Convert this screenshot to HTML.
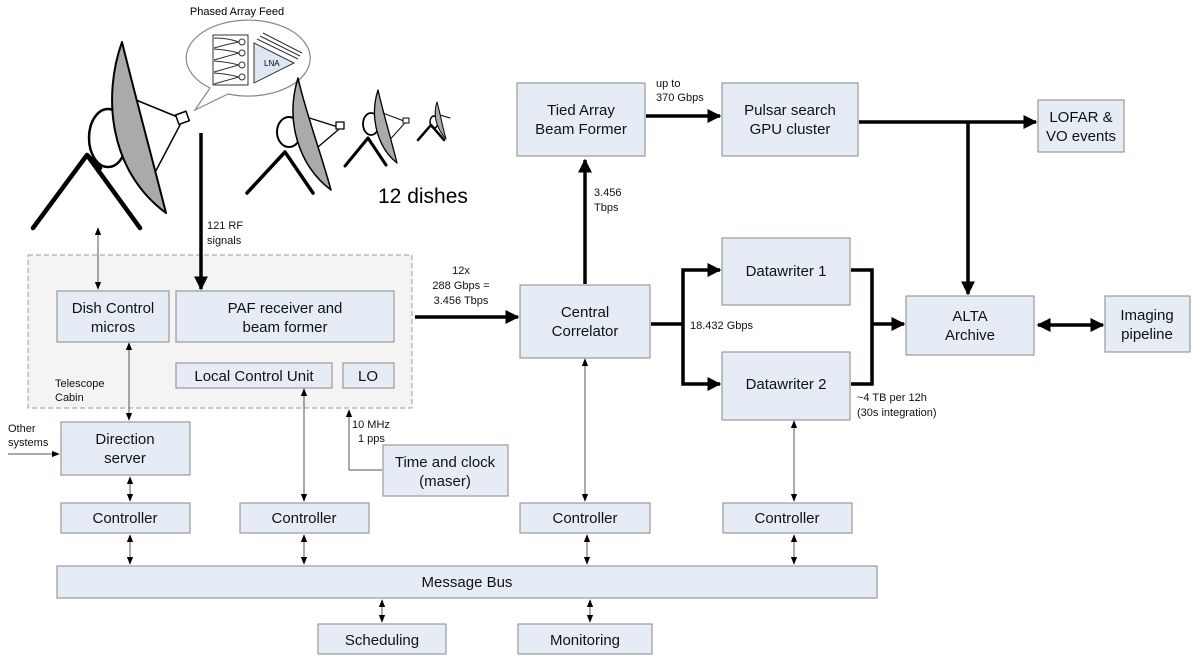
<!DOCTYPE html>
<html><head><meta charset="utf-8"><style>
html,body{margin:0;padding:0;background:#fff}
svg{display:block;font-family:"Liberation Sans",Arial,sans-serif}
.b{fill:#e6ecf6;stroke:#999;stroke-width:1.2}
.t{font-size:15px;fill:#111;text-anchor:middle}
.s{font-size:11px;fill:#111}
.k{stroke:#000;stroke-width:3.5;fill:none}
.n{stroke:#555;stroke-width:1;fill:none}
</style></head><body>
<svg width="1200" height="657" viewBox="0 0 1200 657">
<defs>
<marker id="A" viewBox="0 0 10 10" refX="9" refY="5" markerWidth="4" markerHeight="4" orient="auto-start-reverse"><path d="M0,0L10,5L0,10z" fill="#000"/></marker>
<marker id="a" viewBox="0 0 10 10" refX="9" refY="5" markerWidth="8" markerHeight="8" orient="auto-start-reverse"><path d="M0,1L10,5L0,9z" fill="#000"/></marker>
</defs>
<!-- bubble -->
<path d="M210,88 A62,38 0 1 1 228,94 L195,110 Z" fill="#fff" stroke="#888" stroke-width="1.2"/>
<rect x="213" y="35" width="35" height="50" fill="#fff" stroke="#333"/>
<g fill="#fff" stroke="#333"><circle cx="242" cy="42" r="3"/><circle cx="242" cy="53" r="3"/><circle cx="242" cy="65" r="3"/><circle cx="242" cy="77" r="3"/></g>
<g fill="none" stroke="#333"><path d="M214,38 Q228,38 239,42 M214,48 Q228,44 239,42 M214,49 Q228,50 239,53 M214,60 Q228,56 239,53 M214,61 Q228,62 239,65 M214,72 Q228,68 239,65 M214,73 Q228,74 239,77 M214,84 Q228,80 239,77"/></g>
<path d="M254,43 L294,63 L254,83z" fill="#dde6f3" stroke="#333"/>
<path d="M257,39 L298,59 M260,36 L300,56 M263,33 L302,53" stroke="#333"/>
<text x="264" y="66" font-size="8">LNA</text>
<text x="237" y="15" font-size="11" text-anchor="middle">Phased Array Feed</text>
<!-- dishes -->
<g stroke="#000" stroke-linecap="round" stroke-linejoin="round">
<ellipse cx="108" cy="138" rx="19" ry="29" fill="#fff" stroke-width="2.5"/>
<line x1="136" y1="100" x2="180" y2="118" stroke-width="1.5"/>
<line x1="150" y1="182" x2="180" y2="125" stroke-width="1.5"/>
<rect x="177" y="113" width="11" height="10" fill="#fff" stroke-width="1.5" transform="rotate(-20 182 118)"/>
<path d="M122,42 C103,95 108,170 166,213 C150,150 135,95 122,42z" fill="#aaa" stroke-width="2"/>
<path d="M33,228 L87,155 L140,228 M87,155 L100,168" fill="none" stroke-width="4.5"/>
<ellipse cx="289" cy="132" rx="12" ry="15" fill="#fff" stroke-width="2"/>
<line x1="300" y1="115" x2="338" y2="127" stroke-width="1.3"/>
<line x1="305" y1="158" x2="338" y2="130" stroke-width="1.3"/>
<rect x="336" y="122" width="8" height="7" fill="#fff" stroke-width="1.3"/>
<path d="M298,78 C285,120 298,165 331,190 C320,150 305,110 298,78z" fill="#aaa" stroke-width="1.5"/>
<path d="M247,193 L285,152 L313,193" fill="none" stroke-width="3.5"/>
<ellipse cx="371" cy="124" rx="8" ry="11" fill="#fff" stroke-width="1.8"/>
<line x1="380" y1="112" x2="404" y2="121" stroke-width="1"/>
<line x1="385" y1="145" x2="404" y2="124" stroke-width="1"/>
<rect x="403" y="118" width="6" height="5" fill="#fff" stroke-width="1"/>
<path d="M378,90 C369,118 378,148 397,163 C390,135 383,112 378,90z" fill="#aaa" stroke-width="1.3"/>
<path d="M345,166 L368,138 L386,165" fill="none" stroke-width="3"/>
<ellipse cx="434" cy="122" rx="4" ry="6" fill="#fff" stroke-width="1.5"/>
<line x1="440" y1="115" x2="450" y2="118" stroke-width="1"/>
<path d="M437,102 C432,118 438,130 446,139 C442,125 440,112 437,102z" fill="#aaa" stroke-width="1"/>
<path d="M418,140 L431,125 L444,140" fill="none" stroke-width="2.5"/>
</g>
<text x="378" y="203" font-size="21">12 dishes</text>
<!-- cabin -->
<rect x="28" y="255" width="384" height="153" fill="#f4f4f4" stroke="#999" stroke-dasharray="5,3"/>
<text class="s" x="55" y="387">Telescope</text><text class="s" x="55" y="401">Cabin</text>
<rect class="b" x="57" y="291" width="112" height="51"/><text class="t" x="113" y="313">Dish Control</text><text class="t" x="113" y="332">micros</text>
<rect class="b" x="176" y="291" width="218" height="51"/><text class="t" x="285" y="313">PAF receiver and</text><text class="t" x="285" y="332">beam former</text>
<rect class="b" x="176" y="363" width="156" height="25"/><text class="t" x="254" y="381" font-size="14">Local Control Unit</text>
<rect class="b" x="343" y="363" width="51" height="25"/><text class="t" x="368" y="381" font-size="14">LO</text>
<rect class="b" x="61" y="422" width="129" height="53"/><text class="t" x="125" y="444">Direction</text><text class="t" x="125" y="463">server</text>
<rect class="b" x="383" y="445" width="125" height="51"/><text class="t" x="445" y="467">Time and clock</text><text class="t" x="445" y="486">(maser)</text>
<rect class="b" x="61" y="503" width="129" height="30"/><text class="t" x="125" y="523">Controller</text>
<rect class="b" x="240" y="503" width="129" height="30"/><text class="t" x="304" y="523">Controller</text>
<rect class="b" x="520" y="503" width="130" height="30"/><text class="t" x="585" y="523">Controller</text>
<rect class="b" x="723" y="503" width="129" height="30"/><text class="t" x="787" y="523">Controller</text>
<rect class="b" x="57" y="566" width="820" height="32"/><text class="t" x="467" y="587" font-size="14">Message Bus</text>
<rect class="b" x="318" y="624" width="128" height="30"/><text class="t" x="382" y="645">Scheduling</text>
<rect class="b" x="518" y="624" width="134" height="30"/><text class="t" x="585" y="645">Monitoring</text>
<rect class="b" x="517" y="83" width="128" height="73"/><text class="t" x="581" y="115">Tied Array</text><text class="t" x="581" y="134">Beam Former</text>
<rect class="b" x="722" y="83" width="136" height="73"/><text class="t" x="790" y="115">Pulsar search</text><text class="t" x="790" y="134">GPU cluster</text>
<rect class="b" x="1038" y="100" width="86" height="52"/><text class="t" x="1081" y="122">LOFAR &amp;</text><text class="t" x="1081" y="141">VO events</text>
<rect class="b" x="520" y="285" width="130" height="73"/><text class="t" x="585" y="317">Central</text><text class="t" x="585" y="336">Correlator</text>
<rect class="b" x="722" y="238" width="128" height="67"/><text class="t" x="786" y="276">Datawriter 1</text>
<rect class="b" x="722" y="352" width="128" height="68"/><text class="t" x="786" y="389">Datawriter 2</text>
<rect class="b" x="906" y="296" width="128" height="59"/><text class="t" x="970" y="321">ALTA</text><text class="t" x="970" y="340">Archive</text>
<rect class="b" x="1105" y="296" width="85" height="56"/><text class="t" x="1147" y="320">Imaging</text><text class="t" x="1147" y="339">pipeline</text>
<!-- thick arrows -->
<g class="k">
<line x1="201" y1="133" x2="201" y2="289" marker-end="url(#A)"/>
<line x1="415" y1="317" x2="518" y2="317" marker-end="url(#A)"/>
<line x1="585" y1="284" x2="585" y2="160" marker-end="url(#A)"/>
<line x1="646" y1="116" x2="720" y2="116" marker-end="url(#A)"/>
<line x1="859" y1="122" x2="1036" y2="122" marker-end="url(#A)"/>
<line x1="968" y1="122" x2="968" y2="294" marker-end="url(#A)"/>
<line x1="651" y1="324" x2="683" y2="324"/>
<path d="M720,270 H683 V384 H720" marker-start="url(#A)" marker-end="url(#A)"/>
<path d="M851,270 H872 V384 H851"/>
<line x1="872" y1="324" x2="904" y2="324" marker-end="url(#A)"/>
<line x1="1038" y1="325" x2="1103" y2="325" marker-start="url(#A)" marker-end="url(#A)"/>
</g>
<!-- thin arrows -->
<g class="n">
<line x1="98" y1="228" x2="98" y2="289" marker-start="url(#a)" marker-end="url(#a)"/>
<line x1="129" y1="343" x2="129" y2="420" marker-start="url(#a)" marker-end="url(#a)"/>
<line x1="8" y1="454" x2="59" y2="454" marker-end="url(#a)"/>
<line x1="304" y1="389" x2="304" y2="501" marker-start="url(#a)" marker-end="url(#a)"/>
<path d="M382,470 H349 V410" marker-end="url(#a)"/>
<line x1="585" y1="359" x2="585" y2="501" marker-start="url(#a)" marker-end="url(#a)"/>
<line x1="794" y1="421" x2="794" y2="501" marker-start="url(#a)" marker-end="url(#a)"/>
<line x1="130" y1="477" x2="130" y2="501" marker-start="url(#a)" marker-end="url(#a)"/>
<line x1="130" y1="535" x2="130" y2="564" marker-start="url(#a)" marker-end="url(#a)"/>
<line x1="304" y1="535" x2="304" y2="564" marker-start="url(#a)" marker-end="url(#a)"/>
<line x1="587" y1="535" x2="587" y2="564" marker-start="url(#a)" marker-end="url(#a)"/>
<line x1="794" y1="535" x2="794" y2="564" marker-start="url(#a)" marker-end="url(#a)"/>
<line x1="382" y1="600" x2="382" y2="622" marker-start="url(#a)" marker-end="url(#a)"/>
<line x1="590" y1="600" x2="590" y2="622" marker-start="url(#a)" marker-end="url(#a)"/>
</g>
<!-- labels -->
<text class="s" x="207" y="229">121 RF</text><text class="s" x="207" y="244">signals</text>
<text class="s" x="461" y="274" text-anchor="middle">12x</text><text class="s" x="461" y="289" text-anchor="middle">288 Gbps =</text><text class="s" x="461" y="304" text-anchor="middle">3.456 Tbps</text>
<text class="s" x="594" y="196">3.456</text><text class="s" x="594" y="211">Tbps</text>
<text class="s" x="656" y="87">up to</text><text class="s" x="656" y="101">370 Gbps</text>
<text class="s" x="690" y="329">18.432 Gbps</text>
<text class="s" x="857" y="401">~4 TB per 12h</text><text class="s" x="857" y="416">(30s integration)</text>
<text class="s" x="8" y="432">Other</text><text class="s" x="8" y="446">systems</text>
<text class="s" x="352" y="428">10 MHz</text><text class="s" x="358" y="442">1 pps</text>
</svg>
</body></html>
